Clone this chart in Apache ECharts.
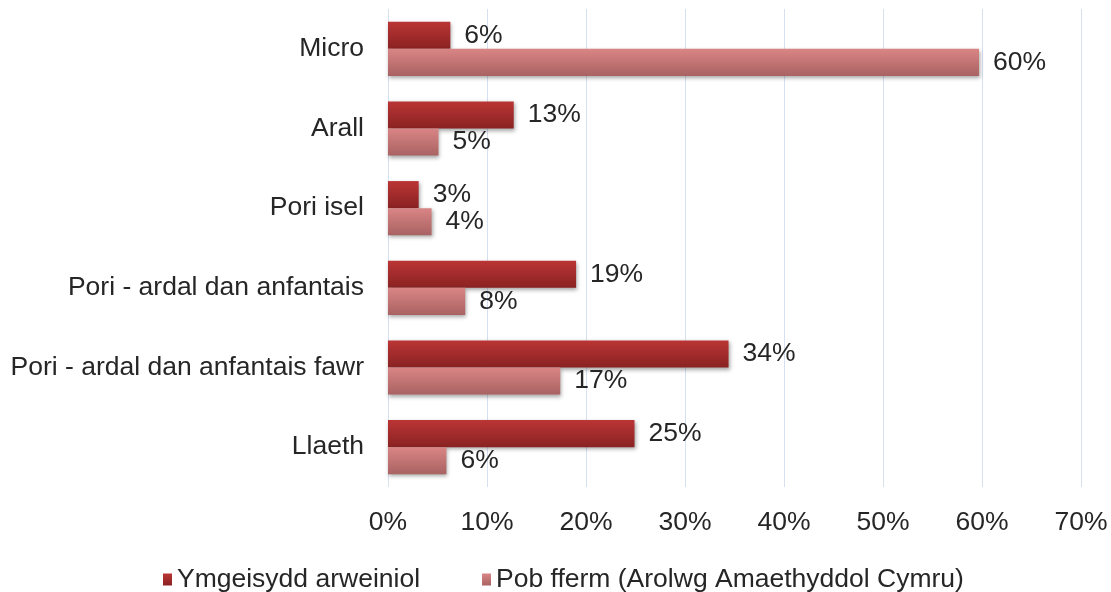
<!DOCTYPE html>
<html>
<head>
<meta charset="utf-8">
<script src="https://cdn.jsdelivr.net/npm/echarts@6/dist/echarts.min.js"></script>
<style>
  html, body { margin: 0; padding: 0; background: #fff; }
  #chart { width: 1111px; height: 592px; }
</style>
</head>
<body>
<div id="chart"></div>
<script>
// categories, top to bottom
const categories = ['Micro', 'Arall', 'Pori isel', 'Pori - ardal dan anfantais', 'Pori - ardal dan anfantais fawr', 'Llaeth']
// Ymgeisydd arweiniol (%)
const leadApplicant = [6.3, 12.7, 3.1, 19.0, 34.4, 24.9]
// Pob fferm (Arolwg Amaethyddol Cymru) (%)
const allFarms = [59.7, 5.1, 4.4, 7.8, 17.4, 5.9]
const xTicks = [0, 10, 20, 30, 40, 50, 60, 70]

const font = 'Liberation Sans, Arial, sans-serif'
const textColor = '#262626'
const fontSize = 26.5

function grad(top, bottom) {
  return new echarts.graphic.LinearGradient(0, 0, 0, 1, [
    { offset: 0, color: top },
    { offset: 1, color: bottom }
  ])
}

const chart = echarts.init(document.getElementById('chart'))

const labelOpt = {
  show: true,
  position: 'right',
  distance: 14,
  color: textColor,
  fontFamily: font,
  fontSize: fontSize,
  formatter: p => Math.round(p.value) + '%'
}

chart.setOption({
  animation: false,
  grid: { left: 388, right: 30, top: 9, bottom: 105, containLabel: false },
  legend: {
    top: 561,
    left: 158,
    itemWidth: 9,
    itemHeight: 12,
    itemGap: 62,
    icon: 'rect',
    textStyle: { color: textColor, fontFamily: font, fontSize: fontSize },
    data: ['Ymgeisydd arweiniol', 'Pob fferm (Arolwg Amaethyddol Cymru)']
  },
  xAxis: {
    type: 'value',
    min: xTicks[0],
    max: xTicks[xTicks.length - 1],
    interval: 10,
    axisLine: { show: false },
    axisTick: { show: false },
    axisLabel: { margin: 22, color: textColor, fontFamily: font, fontSize: fontSize, formatter: v => v + '%' },
    splitLine: { show: true, lineStyle: { color: '#d5e0f0', width: 1 } }
  },
  yAxis: {
    type: 'category',
    inverse: true,
    data: categories,
    axisLine: { show: false },
    axisTick: { show: false },
    axisLabel: { margin: 24, color: textColor, fontFamily: font, fontSize: fontSize }
  },
  series: [{
    name: 'Ymgeisydd arweiniol',
    type: 'bar',
    data: leadApplicant,
    barGap: '0%',
    barCategoryGap: '32%',
    itemStyle: {
      color: grad('#bb3535', '#8a2222'),
      shadowColor: 'rgba(0,0,0,0.35)',
      shadowBlur: 4,
      shadowOffsetX: 1,
      shadowOffsetY: 2
    },
    label: labelOpt
  }, {
    name: 'Pob fferm (Arolwg Amaethyddol Cymru)',
    type: 'bar',
    data: allFarms,
    itemStyle: {
      color: grad('#da8585', '#a96262'),
      shadowColor: 'rgba(0,0,0,0.35)',
      shadowBlur: 4,
      shadowOffsetX: 1,
      shadowOffsetY: 2
    },
    label: labelOpt
  }]
})
</script>
</body>
</html>
